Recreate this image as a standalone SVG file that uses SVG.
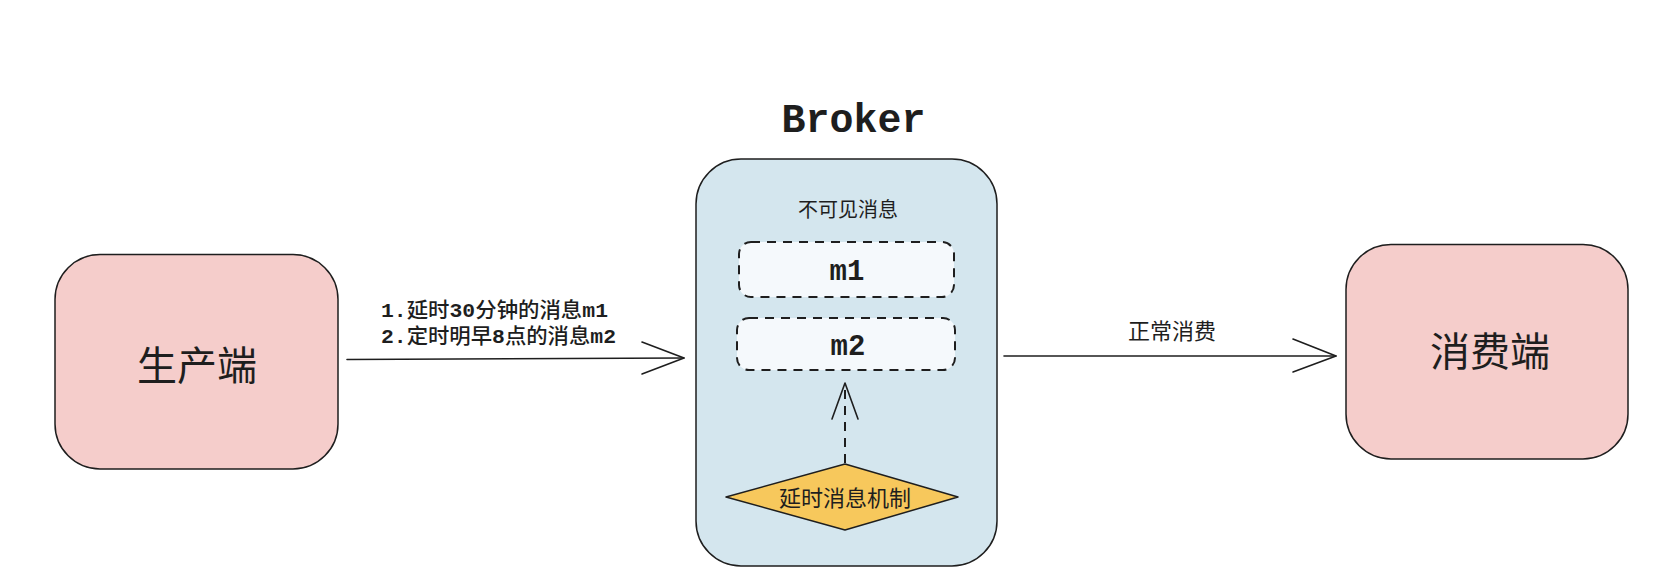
<svg xmlns="http://www.w3.org/2000/svg" width="1665" height="585" viewBox="0 0 1665 585">
<style>
.box{fill:#f5cdcb;stroke:#1e1e1e;stroke-width:1.5}
.broker{fill:#d4e6ee;stroke:#1e1e1e;stroke-width:1.5}
.msg{fill:#f5f9fc;stroke:#1e1e1e;stroke-width:2;stroke-dasharray:9 7}
.diamond{fill:#f7c85c;stroke:#1e1e1e;stroke-width:1.5;stroke-linejoin:round}
.cn{font-family:"Noto Sans CJK SC","Noto Sans",sans-serif;fill:#1e1e1e;text-anchor:middle}
.mono{font-family:"Liberation Mono","Noto Sans CJK SC",monospace;fill:#1e1e1e}
.b{font-weight:bold}
.line{fill:none;stroke:#1e1e1e;stroke-width:1.6;stroke-linecap:round;stroke-linejoin:round}
.dash{fill:none;stroke:#1e1e1e;stroke-width:2;stroke-dasharray:9 7}
</style>
<rect width="1665" height="585" fill="#ffffff"/>
<g id="producer">
<rect class="box" x="55" y="254.5" width="283" height="214.5" rx="45"/>
<text class="cn" x="197" y="380" font-size="40">生产端</text>
</g>
<g id="broker">
<text class="mono b" x="853.5" y="132" font-size="40" text-anchor="middle">Broker</text>
<rect class="broker" x="696" y="159" width="301" height="407" rx="45"/>
<text class="cn" x="848" y="217" font-size="20">不可见消息</text>
</g>
<g id="m1">
<rect class="msg" x="739" y="242" width="215" height="55" rx="12"/>
<text class="mono b" x="847" y="280" font-size="29" text-anchor="middle">m1</text>
</g>
<g id="m2">
<rect class="msg" x="737" y="318" width="218" height="52" rx="12"/>
<text class="mono b" x="848" y="355" font-size="29" text-anchor="middle">m2</text>
</g>
<g id="delay">
<path class="diamond" d="M726 497 L845 464 L958 497 L845 530 Z"/>
<text class="cn" x="845" y="506" font-size="22">延时消息机制</text>
</g>
<g id="consumer">
<rect class="box" x="1346" y="244.5" width="282" height="214.5" rx="45"/>
<text class="cn" x="1490" y="366" font-size="40">消费端</text>
</g>
<g id="connectors">
<path class="line" d="M347 359.5 L684 358"/>
<path class="line" d="M642 342 L684 358 L642 374"/>
<text class="mono" x="381" y="317" font-size="21" font-weight="500" textLength="227" lengthAdjust="spacingAndGlyphs"><tspan class="b">1.</tspan>延时<tspan class="b">30</tspan>分钟的消息<tspan class="b">m1</tspan></text>
<text class="mono" x="381" y="343" font-size="21" font-weight="500" textLength="235" lengthAdjust="spacingAndGlyphs"><tspan class="b">2.</tspan>定时明早<tspan class="b">8</tspan>点的消息<tspan class="b">m2</tspan></text>
<path class="dash" d="M845 463 L845 385"/>
<path class="line" d="M832 419 L845 383 L858 419"/>
<path class="line" d="M1004 356 L1336 356"/>
<path class="line" d="M1293 339 L1336 356 L1293 372"/>
<text class="cn" x="1172" y="339" font-size="22">正常消费</text>
</g>
</svg>
